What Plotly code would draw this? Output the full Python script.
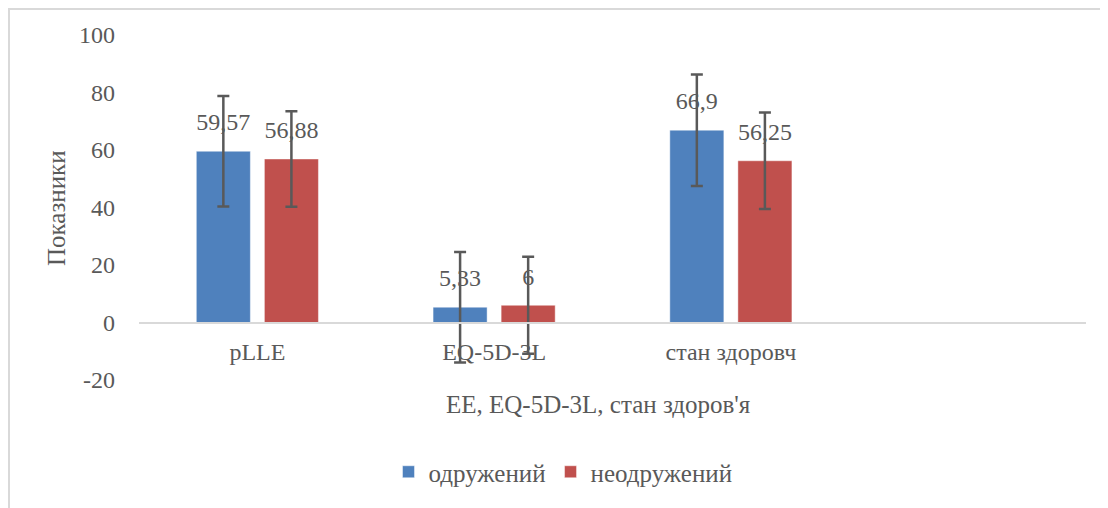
import plotly.graph_objects as go

categories = ["pLLE", "EQ-5D-3L", "стан здоровч"]
series_names = ["одружений", "неодружений"]
married = [59.57, 5.33, 66.9]
unmarried = [56.88, 6, 56.25]
married_err = [19.2, 19.2, 19.4]
unmarried_err = [16.6, 16.9, 16.8]
y_ticks = [-20, 0, 20, 40, 60, 80, 100]
y_ticklabels = ["-20", "0", "20", "40", "60", "80", "100"]
x_title = "EE, EQ-5D-3L, стан здоров'я"
y_title = "Показники"

colors = ["#4F81BD", "#C0504D"]
text_color = "#595959"
font_family = "Liberation Serif, Times New Roman, serif"
BARGAP = 0.425

# page is offset by the 8px body margin; plot area in figure pixels
PL, PT, PW, PH = 131, 27, 947, 345


def fmt(v):
    return f"{v:g}".replace(".", ",")


def px(xp):
    return (xp - 8 - PL) / PW


def py(yp):
    return (PT + PH - (yp - 8)) / PH


fig = go.Figure()
for i, (name, vals, errs, col) in enumerate(zip(series_names, [married, unmarried],
                                                [married_err, unmarried_err], colors)):
    fig.add_trace(go.Bar(
        x=categories, y=vals, name=name, offsetgroup=str(i),
        marker=dict(color=col, line=dict(color="rgba(255,255,255,0.45)", width=1)),
        error_y=dict(type="data", array=errs, visible=True, color="#595959",
                     thickness=2.5, width=6),
    ))
for i, vals in enumerate([married, unmarried]):
    fig.add_trace(go.Scatter(
        x=categories, y=vals, mode="markers+text", offsetgroup=str(i),
        text=[fmt(v) for v in vals], textposition="top center",
        marker=dict(size=22, color="rgba(0,0,0,0)"),
        textfont=dict(family=font_family, size=24, color=text_color),
        showlegend=False, hoverinfo="skip", cliponaxis=False,
    ))

fig.update_layout(
    width=1100, height=500,
    margin=dict(l=PL, r=1100 - PL - PW, t=PT, b=500 - PT - PH),
    paper_bgcolor="white", plot_bgcolor="white",
    barmode="group", bargap=BARGAP, bargroupgap=0.206,
    scattermode="group", scattergap=BARGAP,
    font=dict(family=font_family, color=text_color, size=24),
    showlegend=True,
    legend=dict(orientation="h", x=px(563), xanchor="center", y=py(472), yanchor="middle",
                font=dict(size=25, color=text_color), itemwidth=30,
                traceorder="normal"),
    xaxis=dict(
        type="category", range=[-0.5, 3.5], anchor="free", position=1/6,
        showline=True, linecolor="#d9d9d9", linewidth=1.5, automargin=False,
        showgrid=False, ticks="", ticklabelstandoff=8,
        tickfont=dict(size=24, color=text_color),
    ),
    yaxis=dict(
        range=[-20, 100], tickvals=y_ticks, ticktext=y_ticklabels, automargin=False,
        showgrid=False, zeroline=False, showline=False, ticks="",
        ticklabelstandoff=23, tickfont=dict(size=24, color=text_color),
    ),
    annotations=[
        dict(text=y_title, xref="paper", yref="paper",
             x=px(57), y=py(208), textangle=-90,
             showarrow=False, xanchor="center", yanchor="middle",
             font=dict(size=25, color=text_color, family=font_family)),
        dict(text=x_title, xref="paper", yref="paper",
             x=px(598), y=py(404),
             showarrow=False, xanchor="center", yanchor="middle",
             font=dict(size=25, color=text_color, family=font_family)),
    ],
    shapes=[dict(type="rect", xref="paper", yref="paper",
                 x0=px(8) + 1 / PW, x1=px(1120),
                 y0=py(520), y1=py(8) - 1 / PH,
                 line=dict(color="#d9d9d9", width=2), layer="below")],
)

fig.write_html("out.html")
